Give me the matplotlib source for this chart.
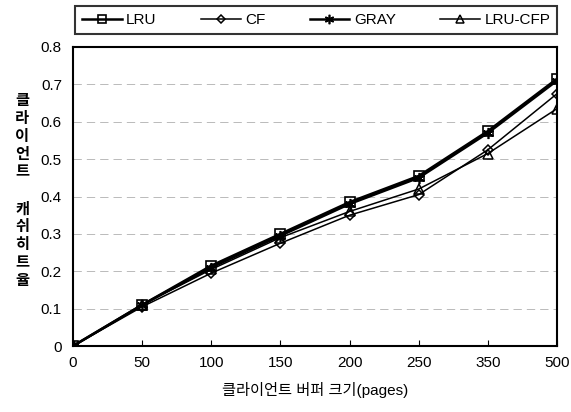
import matplotlib.pyplot as plt

plt.rcParams['font.family'] = ['Liberation Sans', 'Noto Sans CJK KR', 'DejaVu Sans']

buffer_sizes = ['0', '50', '100', '150', '200', '250', '350', '500']
lru = [0.0, 0.11, 0.215, 0.30, 0.385, 0.455, 0.575, 0.715]
cf = [0.0, 0.105, 0.195, 0.275, 0.35, 0.405, 0.525, 0.675]
gray = [0.0, 0.11, 0.21, 0.295, 0.38, 0.45, 0.57, 0.71]
lru_cfp = [0.0, 0.11, 0.205, 0.29, 0.36, 0.42, 0.515, 0.635]

fig = plt.figure(figsize=(5.71, 4.12), dpi=100)
ax = fig.add_axes([73 / 571, 66 / 412, 484 / 571, 299 / 412])

x = list(range(len(buffer_sizes)))
ax.plot(x, lru, color='black', lw=1.8, marker='s', ms=7, mfc='none', mew=1.2, label='LRU')
ax.plot(x, cf, color='black', lw=1.1, marker='D', ms=5, mfc='none', mew=1.1, label='CF')
ax.plot(x, gray, color='black', lw=1.8, marker=(6, 2, 0), ms=8, mew=1.2, label='GRAY')
ax.plot(x, lru_cfp, color='black', lw=1.1, marker='^', ms=7, mfc='none', mew=1.1, label='LRU-CFP')

ax.set_xlim(0, len(buffer_sizes) - 1)
ax.set_ylim(0, 0.8)
ax.set_xticks(x)
ax.set_xticklabels(buffer_sizes)
ax.set_yticks([0, 0.1, 0.2, 0.3, 0.4, 0.5, 0.6, 0.7, 0.8])
ax.set_yticklabels(['0', '0.1', '0.2', '0.3', '0.4', '0.5', '0.6', '0.7', '0.8'])
ax.tick_params(axis='x', direction='in', length=4, pad=7, labelsize=11)
ax.tick_params(axis='y', length=0, pad=8, labelsize=11)
ax.yaxis.grid(True, color='#b0b0b0', linestyle=(0, (10, 6)), lw=0.6)
for s in ax.spines.values():
    s.set_linewidth(1.5)

ax.set_xlabel('클라이언트 버퍼 크기(pages)', fontsize=11, labelpad=9)

fig.text(22 / 571, 1 - 137 / 412, '클\n라\n이\n언\n트', ha='center', va='center',
         fontsize=11, linespacing=1.35, fontweight='bold')
fig.text(22 / 571, 1 - 245 / 412, '캐\n쉬\n히\n트\n율', ha='center', va='center',
         fontsize=11, linespacing=1.35, fontweight='bold')

leg = fig.legend(loc='lower left', bbox_to_anchor=(75 / 571, 1 - 34 / 412, 482 / 571, 31 / 412),
                 mode='expand', ncol=4, frameon=True, fancybox=False, edgecolor='black',
                 fontsize=11, handlelength=2.6, handletextpad=0.3, borderpad=0.45,
                 borderaxespad=0, markerscale=0.85)
leg.get_frame().set_linewidth(1.5)

fig.savefig('out.png', dpi=100)
